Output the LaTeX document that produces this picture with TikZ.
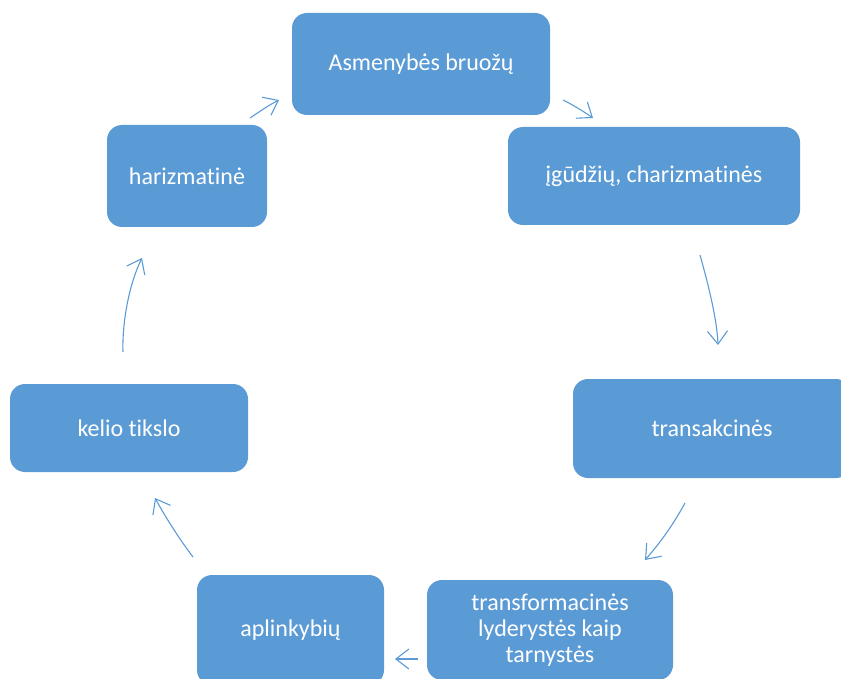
\documentclass[tikz,border=0pt]{standalone}
\usepackage{fontspec}
\setmainfont{Carlito}[Ligatures=NoCommon]
\usetikzlibrary{arrows.meta}
\definecolor{boxblue}{HTML}{5B9BD5}
\definecolor{arrowblue}{HTML}{5B9BD5}
\tikzset{
  box/.style={draw=none, fill=boxblue, rounded corners=15pt, inner sep=0pt,
    text=white, font=\fontsize{24}{26}\selectfont, align=center},
  conn/.style={draw=arrowblue, line width=1.1pt,
    -{Straight Barb[length=13pt,width=20pt,line width=1.1pt]}}
}
\begin{document}
\begin{tikzpicture}[x=1pt,y=-1pt]
\useasboundingbox (0,0) rectangle (841,679);
\node[box, minimum width=258pt, minimum height=102pt] (b1) at (421,64) {Asmenybės bruožų};
\node[box, minimum width=292pt, minimum height=98pt] (b2) at (654,176) {įgūdžių, charizmatinės};
\node[box, minimum width=278pt, minimum height=99pt] (b3) at (712,428.5) {transakcinės};
\node[box, minimum width=246pt, minimum height=100pt] (b4) at (550,630) {transformacinės\\lyderystės kaip\\tarnystės};
\node[box, minimum width=187pt, minimum height=110pt] (b5) at (290.5,630) {aplinkybių};
\node[box, minimum width=238pt, minimum height=88pt] (b6) at (129,428) {kelio tikslo};
\node[box, minimum width=160pt, minimum height=102pt] (b7) at (187,176) {harizmatinė};
% connector end points
\coordinate (a1s) at (250,118); \coordinate (a1e) at (279,100);
\coordinate (a2s) at (563,100); \coordinate (a2e) at (593,118);
\coordinate (a3s) at (700,255); \coordinate (a3e) at (718,345);
\coordinate (a4s) at (685,503); \coordinate (a4e) at (645,560);
\coordinate (a5s) at (418,659); \coordinate (a5e) at (395,659);
\coordinate (a6s) at (193,557); \coordinate (a6e) at (155,498);
\coordinate (a7s) at (123,352); \coordinate (a7e) at (142,258);
\draw[conn] (a1s) .. controls (259,112) and (269,105) .. (a1e);
\draw[conn] (a2s) .. controls (573,105) and (583,111) .. (a2e);
\draw[conn] (a3s) .. controls (707,280) and (717,318) .. (a3e);
\draw[conn] (a4s) .. controls (673,525) and (660,543) .. (a4e);
\draw[conn] (a5s) -- (a5e);
\draw[conn] (a6s) .. controls (180,540) and (166,518) .. (a6e);
\draw[conn] (a7s) .. controls (122,320) and (130,282) .. (a7e);
\end{tikzpicture}
\end{document}
